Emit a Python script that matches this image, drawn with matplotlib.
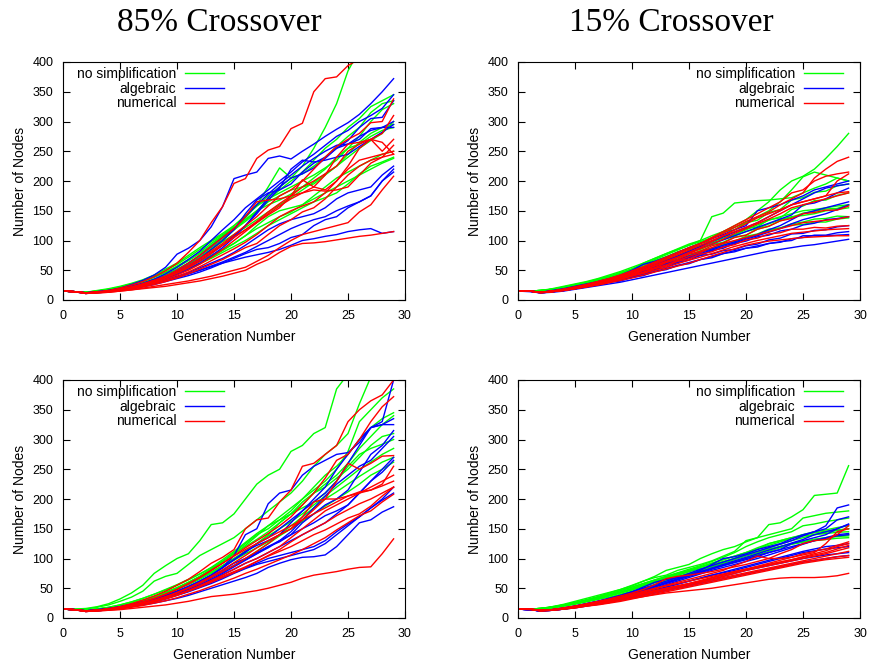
import numpy as np
import matplotlib
matplotlib.use('Agg')
import matplotlib.pyplot as plt

plt.rcParams['font.family'] = ['Liberation Sans', 'DejaVu Sans']

generations = np.arange(30)

method_labels = ['no simplification', 'algebraic', 'numerical']
method_colors = ['#00ff00', '#0000ff', '#ff0000']
titles = ['85% Crossover', '15% Crossover']

# --- 85% crossover, first batch -------------------------------------------
c85a_none = [
    [15,14,13,16,19,23,28,34,42,52,62,75,88,100,112,125,140,158,175,190,205,225,255,290,330,385,420,440,460,480],
    [15,14,12,15,18,22,27,33,40,50,60,72,85,98,110,122,135,150,168,185,200,215,235,255,270,290,305,325,335,345],
    [15,14,13,15,18,21,26,32,39,47,57,68,80,95,108,120,138,160,190,222,205,212,225,240,258,275,290,315,330,335],
    [15,14,12,14,17,21,25,31,38,46,55,66,78,92,108,125,142,158,170,180,190,200,210,222,235,255,275,300,320,330],
    [15,14,13,15,17,20,24,29,35,42,50,60,72,85,98,110,122,135,148,160,172,185,198,212,225,240,255,268,280,300],
    [15,14,12,14,16,19,23,28,34,41,49,58,70,84,100,118,135,150,160,168,178,190,205,220,240,255,262,275,285,290],
    [15,14,13,14,16,19,22,27,32,38,45,53,62,72,83,95,108,120,130,140,148,160,175,190,205,215,225,235,245,250],
    [15,14,12,14,16,18,22,26,31,37,44,52,61,70,80,90,100,112,125,135,145,155,165,172,180,195,212,225,232,240],
    [15,14,13,14,16,19,23,27,33,40,48,56,65,75,85,95,108,125,140,150,155,160,170,180,190,200,210,220,230,238],
    [15,14,13,15,17,20,24,29,35,43,52,62,74,88,102,118,132,148,165,175,185,190,195,210,225,245,265,280,290,295],
]
c85a_alg = [
    [15,14,11,13,16,20,26,33,42,55,77,87,100,123,157,204,210,215,238,242,237,250,262,275,287,298,312,330,350,372],
    [15,14,12,14,16,19,23,28,35,44,55,68,82,100,118,135,155,170,185,200,215,232,245,260,275,285,300,310,322,345],
    [15,14,12,13,15,18,22,27,33,40,50,62,75,90,105,120,140,160,178,195,210,225,238,250,260,262,270,288,290,300],
    [15,14,11,13,15,18,22,26,32,38,46,55,66,78,92,108,125,145,168,188,220,235,232,235,240,245,258,270,282,295],
    [15,14,12,13,15,17,20,24,29,34,40,46,54,62,70,80,92,105,118,128,135,140,145,155,170,180,185,190,210,225],
    [15,14,11,12,14,16,19,23,27,32,38,44,50,57,64,72,80,90,100,110,120,128,135,140,150,158,165,175,200,220],
    [15,14,12,13,14,16,19,22,26,31,36,41,47,54,62,70,78,85,88,95,105,110,125,135,140,155,165,175,200,215],
    [15,14,12,13,15,17,20,24,28,33,38,44,50,56,62,67,72,76,80,85,92,100,103,107,110,115,118,120,112,115],
    [15,14,12,14,16,19,23,27,33,40,48,58,70,85,100,118,145,168,180,185,195,215,230,240,255,262,275,285,290,290],
    [15,14,12,13,15,18,21,25,30,36,43,52,62,74,88,105,125,148,172,190,205,212,222,238,255,268,290,305,307,335],
]
c85a_num = [
    [15,14,12,14,16,20,25,31,39,49,62,80,100,130,157,196,204,238,252,258,288,297,350,372,375,394,405,420,430,440],
    [15,14,12,13,15,18,22,27,33,40,48,58,70,82,95,110,125,140,158,175,185,200,220,240,258,270,280,298,300,338],
    [15,14,11,13,15,18,22,27,33,40,50,62,75,90,105,120,140,165,168,170,175,180,190,210,240,262,265,270,280,310],
    [15,14,12,13,15,17,21,25,30,37,45,54,65,78,92,106,118,130,143,155,175,202,190,185,200,225,255,270,250,270],
    [15,14,12,13,15,17,20,24,29,35,42,50,60,72,85,100,115,130,145,158,170,180,185,183,185,190,210,230,240,260],
    [15,14,11,12,14,16,19,23,28,33,39,47,56,66,76,86,97,110,125,140,150,158,165,180,200,220,235,240,245,250],
    [15,14,12,13,14,16,19,22,26,31,37,44,52,60,68,78,88,95,110,125,135,148,155,170,190,210,225,235,240,245],
    [15,14,12,12,13,15,17,20,23,26,29,32,36,40,45,50,55,65,75,88,100,110,115,120,125,130,148,160,185,208],
    [15,14,11,12,13,15,17,19,21,23,26,29,32,36,40,45,50,60,68,80,90,95,96,98,101,104,107,109,112,115],
    [15,14,12,13,15,18,21,26,31,38,46,56,68,80,92,105,118,132,148,162,175,190,200,212,225,250,262,270,265,245],
]

# --- 15% crossover, first batch -------------------------------------------
c15a_none = [
    [15,15,16,19,23,27,31,36,42,48,55,62,70,78,85,92,98,105,115,125,135,150,165,185,200,208,220,238,258,280],
    [15,15,16,18,22,26,30,35,40,46,52,60,68,76,84,92,100,140,146,163,165,167,168,170,172,180,188,195,205,200],
    [15,15,16,18,21,25,29,34,39,45,52,62,70,78,86,94,100,108,115,122,130,140,150,165,185,207,215,210,205,200],
    [15,15,16,18,21,24,28,33,38,44,50,57,64,72,80,88,96,103,114,118,130,134,147,152,168,172,181,183,192,195],
    [15,15,15,17,20,24,29,32,38,43,51,56,66,71,81,86,96,99,107,109,120,123,135,138,152,158,167,168,176,180],
    [15,15,15,17,20,23,27,32,36,42,46,55,60,69,73,81,85,93,97,106,109,119,124,133,139,146,149,153,154,160],
    [15,15,16,18,21,24,28,32,37,42,48,55,62,69,76,83,90,96,102,108,115,120,128,135,140,142,145,150,152,155],
    [15,15,15,17,19,22,26,30,35,38,45,49,57,61,69,73,81,85,93,97,105,109,117,121,128,131,136,137,141,140],
    [15,15,16,17,20,23,28,30,36,39,47,51,59,63,71,75,83,87,95,99,107,111,119,121,126,127,131,131,136,138],
    [15,15,16,18,21,25,29,34,40,46,52,59,66,73,80,86,92,98,104,110,118,126,134,140,145,150,152,155,158,160],
]
c15a_alg = [
    [15,15,13,16,19,23,27,31,36,42,50,60,65,72,80,88,95,103,110,118,125,150,155,160,168,175,185,190,195,200],
    [15,15,13,15,18,22,26,30,35,40,46,53,60,67,74,82,90,98,106,114,122,130,140,150,160,170,180,188,192,195],
    [15,15,13,15,18,21,25,29,34,39,45,52,59,66,73,80,87,94,101,108,115,122,129,136,143,160,163,170,180,188],
    [15,15,13,15,17,21,25,29,33,38,44,50,56,62,68,74,80,86,92,98,104,110,118,125,135,145,150,155,160,165],
    [15,15,12,14,17,20,24,28,32,37,42,48,54,60,66,72,78,84,90,96,102,108,114,120,128,135,140,145,152,160],
    [15,15,13,15,17,20,24,29,31,37,40,47,51,59,63,71,75,83,87,95,99,106,109,116,119,126,129,135,137,140],
    [15,15,13,14,16,19,23,25,31,33,40,43,51,55,63,67,75,77,83,85,91,94,101,104,111,112,117,118,123,125],
    [15,15,12,14,16,19,23,25,30,32,38,41,48,51,58,61,68,71,78,81,87,89,95,97,103,105,109,109,113,115],
    [15,14,12,13,15,18,21,24,27,30,34,38,42,46,50,54,58,62,66,70,74,78,82,85,88,91,93,96,99,102],
    [15,15,12,14,16,19,22,26,30,34,38,43,48,53,58,63,68,73,78,83,87,91,95,98,100,108,108,108,109,110],
]
c15a_num = [
    [15,15,13,15,18,22,26,31,36,42,49,56,64,72,80,88,95,103,112,122,132,140,148,160,170,180,205,220,233,240],
    [15,15,13,15,18,22,26,31,36,42,48,55,62,70,78,86,95,105,115,125,135,145,155,165,180,185,200,208,212,215],
    [15,15,13,15,18,21,25,29,34,40,46,53,60,68,76,84,92,100,108,115,122,130,140,150,160,165,170,175,200,212],
    [15,15,13,15,17,21,25,29,34,39,45,51,58,65,72,80,88,98,108,118,128,138,145,152,160,165,170,175,180,182],
    [15,15,12,14,17,20,24,28,33,38,44,50,57,64,71,78,86,94,102,112,120,128,136,145,155,160,165,170,175,180],
    [15,15,13,15,17,21,23,29,31,38,42,50,54,63,68,77,82,91,96,105,109,119,124,133,137,145,147,151,151,158],
    [15,15,13,14,17,20,23,27,31,36,41,47,53,59,66,73,80,88,95,100,105,110,115,120,125,130,132,134,136,140],
    [15,15,12,14,16,19,24,26,32,35,42,45,53,57,65,69,77,81,89,93,101,104,111,113,119,119,122,121,124,125],
    [15,15,13,14,16,19,22,26,30,35,40,45,50,55,61,67,72,78,84,90,95,100,104,108,112,114,116,118,119,120],
    [15,15,13,14,16,19,22,25,29,33,37,42,47,52,57,62,68,74,80,86,92,96,99,101,103,105,106,107,108,108],
]

# --- 85% crossover, second batch ------------------------------------------
c85b_none = [
    [15,15,16,19,24,32,42,55,75,88,100,108,130,157,160,175,200,225,240,250,280,290,310,320,385,410,430,450,470,490],
    [15,15,15,18,22,28,35,45,62,70,75,90,105,115,125,135,150,165,180,195,210,230,255,275,290,310,360,405,420,440],
    [15,14,13,15,18,22,27,33,40,48,56,65,74,84,95,108,122,138,155,170,185,200,220,240,255,275,300,320,335,345],
    [15,14,13,15,18,22,27,33,40,47,55,64,74,85,98,112,127,142,155,165,175,190,210,225,240,260,285,305,325,340],
    [15,14,13,15,17,21,25,30,36,43,51,60,70,82,95,108,120,132,145,160,175,195,210,220,235,250,270,290,305,310],
    [15,14,13,14,17,20,24,29,35,42,50,58,67,77,88,100,112,125,138,150,162,175,190,205,220,235,250,262,275,285],
    [15,14,12,14,16,19,23,28,34,41,48,56,65,75,86,97,108,118,128,140,155,170,185,200,212,225,238,250,262,270],
    [15,14,13,15,17,21,25,30,36,43,51,60,70,82,95,110,125,140,150,165,180,200,215,230,250,280,330,350,370,385],
    [15,14,12,14,16,19,23,27,32,38,45,52,60,69,78,88,100,112,125,138,150,162,175,188,200,212,225,240,250,262],
    [15,14,13,15,17,20,24,29,35,42,50,58,67,77,88,100,112,125,140,160,175,185,195,210,230,255,275,285,292,300],
]
c85b_alg = [
    [15,14,12,14,16,19,23,27,32,38,45,53,62,72,85,105,140,150,192,210,215,240,255,265,275,278,295,320,330,400],
    [15,14,12,14,16,19,23,27,32,38,45,53,62,72,84,98,112,122,130,140,160,180,195,210,230,260,290,320,325,325],
    [15,14,12,13,15,18,22,26,31,37,44,52,60,70,80,92,100,110,120,128,140,160,175,190,200,215,245,275,290,315],
    [15,14,12,13,15,18,21,25,30,36,42,50,58,67,77,88,98,108,118,130,145,165,185,205,225,240,255,265,285,305],
    [15,14,12,13,15,17,20,24,29,34,40,47,55,64,73,82,92,100,110,120,130,140,150,160,175,190,210,230,250,270],
    [15,14,11,12,14,17,20,23,27,32,38,44,51,58,66,75,83,90,95,100,105,110,115,125,140,155,170,185,200,220],
    [15,14,12,13,15,17,20,24,28,33,39,45,52,60,68,76,84,92,100,105,110,115,120,130,145,158,170,185,198,210],
    [15,14,11,12,14,16,19,22,25,29,33,38,44,50,56,62,68,75,85,92,98,102,103,106,120,140,160,165,178,187],
    [15,14,12,13,15,18,21,25,30,35,41,48,56,65,75,86,97,108,120,130,140,150,160,172,180,190,210,230,245,265],
    [15,14,12,13,15,18,22,26,31,37,44,52,61,72,85,98,110,125,135,150,165,180,200,220,250,275,300,320,325,335],
]
c85b_num = [
    [15,14,11,13,16,19,24,30,37,45,55,65,78,92,102,115,150,165,168,195,215,255,260,275,290,330,350,365,375,400],
    [15,14,12,13,15,18,22,27,33,40,48,57,68,80,92,105,118,130,142,155,170,190,210,235,265,275,300,330,355,372],
    [15,14,12,13,15,18,21,25,30,36,43,51,60,70,81,93,105,118,130,140,150,165,182,200,230,260,250,260,272,273],
    [15,14,12,13,15,17,20,24,29,35,42,50,58,68,78,88,100,112,125,140,150,170,195,200,200,205,210,215,225,255],
    [15,14,11,12,14,17,20,24,28,33,39,46,54,63,72,82,92,100,110,120,135,150,165,180,190,200,210,220,230,240],
    [15,14,11,12,14,16,19,23,27,32,38,45,52,60,68,76,85,95,105,115,128,140,150,160,172,182,192,200,210,220],
    [15,14,12,13,15,17,20,24,28,33,39,46,54,62,70,78,86,95,104,112,120,130,140,148,158,168,175,188,205,220],
    [15,14,11,12,13,15,18,21,25,29,34,40,46,53,60,67,75,82,90,98,106,115,125,135,148,160,172,180,195,208],
    [15,14,11,12,13,14,16,18,20,22,25,28,32,36,38,40,43,46,50,55,60,67,72,75,78,82,85,86,108,133],
    [15,14,12,13,15,18,22,27,33,40,48,58,68,80,92,104,115,125,135,145,155,165,175,185,195,205,212,215,222,230],
]

# --- 15% crossover, second batch ------------------------------------------
c15b_none = [
    [15,15,16,19,23,28,33,38,43,48,54,62,70,80,85,90,100,108,115,120,128,135,157,160,170,182,206,208,210,256],
    [15,15,16,19,22,26,31,36,42,48,55,62,68,72,80,85,90,96,104,112,130,135,140,145,150,168,172,176,178,180],
    [15,15,16,18,22,26,30,35,40,46,52,58,64,70,76,82,88,95,102,110,120,128,135,140,145,155,158,162,165,168],
    [15,15,16,18,21,25,29,34,39,44,50,56,62,68,74,80,86,92,98,104,110,116,122,128,134,140,145,148,152,155],
    [15,15,16,18,21,25,29,33,38,43,48,54,60,66,72,78,83,88,94,100,106,112,118,124,130,135,140,144,147,150],
    [15,15,15,17,20,24,28,32,37,42,47,53,59,64,69,74,80,86,92,98,104,110,116,120,124,128,132,135,138,140],
    [15,15,16,18,21,25,29,33,38,43,48,55,62,68,72,78,85,90,95,100,108,115,125,130,135,138,140,142,144,145],
    [15,15,15,17,20,23,27,31,35,40,45,50,56,62,68,74,80,86,90,95,100,108,115,120,125,128,130,132,134,135],
    [15,15,16,18,21,24,28,33,38,43,49,55,61,66,70,75,80,85,90,95,100,106,112,118,124,128,132,135,137,138],
    [15,15,16,18,22,26,30,35,40,46,52,58,64,70,75,80,86,92,98,104,110,118,125,130,135,140,143,146,148,150],
]
c15b_alg = [
    [15,14,12,14,17,20,24,28,33,38,44,50,56,62,68,75,82,88,94,100,106,112,118,124,130,138,145,155,185,190],
    [15,14,12,14,17,20,24,28,33,38,44,52,60,65,68,72,80,90,100,103,108,115,120,125,133,140,145,150,165,170],
    [15,14,12,14,16,20,24,28,32,37,42,48,54,60,66,72,78,84,90,96,102,108,114,120,126,132,140,145,150,157],
    [15,14,12,14,16,19,23,27,31,36,41,46,52,58,64,70,76,82,88,94,100,105,110,115,120,125,130,135,140,142],
    [15,14,12,13,16,19,22,26,30,35,40,45,50,56,62,68,74,80,85,90,95,100,106,112,118,124,130,134,138,140],
    [15,14,12,13,15,18,21,25,29,33,37,42,47,52,57,62,67,72,77,82,87,92,97,102,107,112,116,120,122,125],
    [15,14,12,13,15,18,21,24,28,32,36,40,44,48,52,56,60,65,70,75,80,84,88,92,96,100,103,106,108,110],
    [15,14,12,13,15,17,20,23,26,30,34,38,42,46,50,54,58,62,66,70,74,78,82,86,90,94,97,100,103,105],
    [15,14,12,13,15,18,21,25,29,33,37,42,47,52,57,62,67,72,76,80,85,90,95,100,105,110,113,116,118,120],
    [15,14,12,14,16,19,23,27,31,36,41,47,53,59,65,71,77,83,88,93,98,103,110,115,125,130,135,140,150,158],
]
c15b_num = [
    [15,15,13,14,17,20,24,28,32,37,42,48,56,66,70,72,75,78,82,86,90,95,100,108,115,125,130,132,140,155],
    [15,15,13,14,17,20,23,27,31,35,40,45,50,55,60,65,70,75,80,88,95,104,100,100,102,106,110,125,145,150],
    [15,15,13,14,16,19,22,26,30,34,38,42,46,50,54,58,62,67,72,77,82,87,92,97,102,108,112,116,122,128],
    [15,15,12,14,16,19,22,26,30,34,38,42,46,50,54,58,63,68,73,78,82,86,90,94,98,103,108,113,120,125],
    [15,15,13,14,16,19,22,25,29,33,37,41,45,49,53,57,61,65,70,75,80,84,88,92,96,100,104,108,113,118],
    [15,15,12,13,15,18,21,24,28,32,36,40,44,48,52,56,60,64,68,72,76,80,84,88,92,96,100,104,108,112],
    [15,15,12,13,15,17,20,23,26,30,34,38,42,46,50,54,58,62,66,70,74,78,82,86,90,94,97,100,103,105],
    [15,14,12,13,15,17,20,22,25,28,32,36,40,44,48,52,56,60,64,68,72,76,80,84,88,92,95,98,100,102],
    [15,15,13,14,16,18,21,24,27,30,33,36,39,42,44,46,48,50,53,56,59,62,65,67,68,68,68,69,71,75],
    [15,15,13,14,16,19,22,26,30,34,39,44,49,54,58,62,66,70,74,78,82,86,90,94,98,102,106,110,116,122],
]

panels = [
    [c85a_none, c85a_alg, c85a_num],
    [c15a_none, c15a_alg, c15a_num],
    [c85b_none, c85b_alg, c85b_num],
    [c15b_none, c15b_alg, c15b_num],
]


def draw_panel(ax, runs, legend_left):
    handles = []
    for method_runs, label, color in zip(runs, method_labels, method_colors):
        for i, run in enumerate(method_runs):
            line, = ax.plot(generations, run, color=color, lw=1.0)
            if i == 0:
                line.set_label(label)
                handles.append(line)
    ax.set_xlim(0, 30)
    ax.set_ylim(0, 400)
    ax.set_xticks(range(0, 31, 5))
    ax.set_yticks(range(0, 401, 50))
    ax.tick_params(direction='in', top=True, right=True, length=5,
                   labelsize=9, pad=7)
    ax.set_xlabel('Generation Number', fontsize=10, labelpad=6)
    ax.set_ylabel('Number of Nodes', fontsize=10, labelpad=4)
    # key sits inside the frame: top-left on the 85% panels, top-right on 15%
    if legend_left:
        anchor, loc = (14 / 342, 1 - 5 / 238), 'upper left'
    else:
        anchor, loc = (1 - 17 / 342, 1 - 5 / 238), 'upper right'
    ax.legend(handles=handles, loc=loc, bbox_to_anchor=anchor,
              frameon=False, markerfirst=False, fontsize=10,
              handlelength=2.8, handletextpad=0.65, labelspacing=0.05,
              borderpad=0, borderaxespad=0)


fig = plt.figure(figsize=(8.71, 6.62), dpi=100)
lefts = [63 / 871, 518 / 871]
bottoms = [1 - 300 / 662, 1 - 618 / 662]
width = 342 / 871
height = 238 / 662

for k, runs in enumerate(panels):
    row, col = divmod(k, 2)
    ax = fig.add_axes([lefts[col], bottoms[row], width, height])
    draw_panel(ax, runs, legend_left=(col == 0))

for col, title in enumerate(titles):
    fig.text([219 / 871, 671 / 871][col], 1 - 23 / 662, title,
             ha='center', va='center', fontsize=24, family='Liberation Serif')

fig.savefig('out.png', dpi=100)
